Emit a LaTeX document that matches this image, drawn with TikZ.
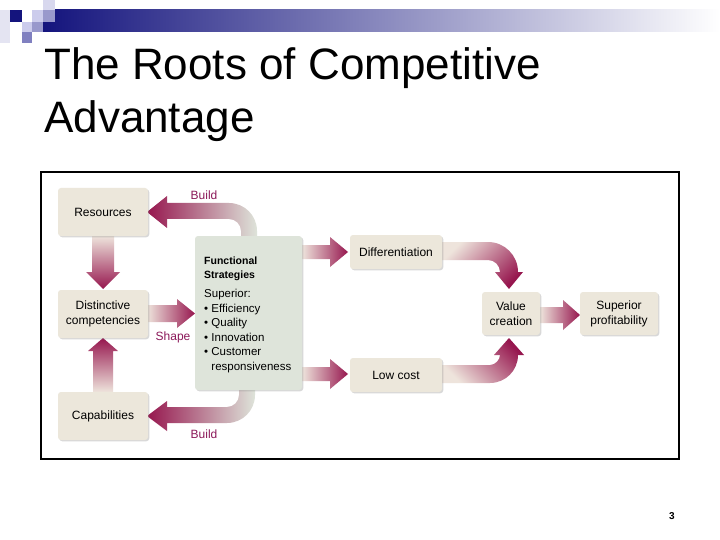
\documentclass[tikz,border=0pt]{standalone}
\usepackage{fontspec}
\setmainfont{Liberation Sans}
\usetikzlibrary{shadows}
\definecolor{arrdark}{RGB}{150,22,78}
\definecolor{arrmid}{RGB}{205,150,170}
\definecolor{arrlight}{RGB}{238,228,220}
\definecolor{boxfill}{RGB}{236,231,219}
\definecolor{fsfill}{RGB}{222,228,218}
\definecolor{lblcol}{RGB}{140,25,90}
\definecolor{mynavy}{RGB}{20,20,125}
\definecolor{barmid}{RGB}{160,160,195}
\definecolor{sqpale}{RGB}{228,228,242}
\definecolor{sqpale2}{RGB}{216,216,238}
\definecolor{sqlight}{RGB}{204,204,236}
\definecolor{sqmid}{RGB}{153,153,204}
\definecolor{sqdark}{RGB}{128,128,192}
\begin{document}
\begin{tikzpicture}[x=1pt,y=-1pt,
  box/.style={draw=none, fill=boxfill, rounded corners=3pt,
    drop shadow={shadow xshift=1.3pt,shadow yshift=-1.3pt,opacity=0.3},
    font=\fontsize{12}{15}\selectfont, align=center, inner sep=0pt},
  fsbox/.style={box, fill=fsfill},
  fstxt/.style={anchor=base west, inner sep=0pt, font=\fontsize{11.5}{14}\selectfont},
  fshead/.style={anchor=base west, inner sep=0pt, font=\fontsize{10.5}{13}\selectfont\bfseries},
  lbl/.style={text=lblcol, inner sep=0pt, font=\fontsize{12}{13}\selectfont},
  fatR/.style={draw=none, left color=arrlight, middle color=arrmid, right color=arrdark},
  fatD/.style={draw=none, top color=arrlight, middle color=arrmid, bottom color=arrdark},
  fatU/.style={draw=none, top color=arrdark, middle color=arrmid, bottom color=arrlight},
  titletxt/.style={anchor=base west, inner sep=0pt, font=\fontsize{44}{53}\selectfont}]
\useasboundingbox (0,0) rectangle (720,540);
\fill[white] (0,0) rectangle (720,540);

% header bar and squares
\shade[left color=mynavy, middle color=barmid, right color=white] (43,10) rectangle (720,32);
\fill[sqpale] (0,10) rectangle (10,43);
\fill[mynavy] (10,10) rectangle (22,22);
\fill[sqlight] (32,10) rectangle (43,22);
\fill[sqpale2] (43,0) rectangle (55,10);
\fill[sqmid] (43,10) rectangle (55,22);
\fill[sqlight] (22,22) rectangle (32,32);
\fill[sqmid] (32,22) rectangle (43,32);
\fill[sqdark] (22,32) rectangle (32,43);

% title
\node[titletxt] (t1) at (44,80) {The Roots of Competitive};
\node[titletxt] (t2) at (44,133) {Advantage};

% frame
\draw[line width=1.6pt] (41,172) rectangle (679,459);

% fat arrows (drawn beneath boxes)
% Build (top): Functional -> Resources
\shade[draw=none, left color=arrdark, middle color=arrmid, right color=fsfill]
  (257,240) -- (257,231) .. controls (257,215.5) and (244.5,203) .. (229,203)
  -- (167,203) -- (167,196) -- (147,212) -- (167,228) -- (167,219) -- (229,219)
  .. controls (235.6,219) and (241,224.4) .. (241,231) -- (241,240) -- cycle;
% Build (bottom): Functional -> Capabilities
\shade[draw=none, left color=arrdark, middle color=arrmid, right color=fsfill]
  (239,388) -- (239,395) .. controls (239,401.6) and (233.6,407) .. (227,407)
  -- (167,407) -- (167,401) -- (147,416) -- (167,431) -- (167,423) -- (227,423)
  .. controls (242.5,423) and (255,410.5) .. (255,395) -- (255,388) -- cycle;
% Resources -> Distinctive
\shade[fatD] (92,236) -- (92,272) -- (86,272) -- (103,289) -- (120,272) -- (114,272) -- (114,236) -- cycle;
% Capabilities -> Distinctive
\shade[fatU] (93,392) -- (93,351) -- (88,351) -- (103,338) -- (118,351) -- (113,351) -- (113,392) -- cycle;
% Distinctive -> Functional (Shape)
\shade[fatR] (147,305) -- (177,305) -- (177,299) -- (195,313.5) -- (177,328) -- (177,322) -- (147,322) -- cycle;
% Functional -> Differentiation
\shade[fatR] (302,245) -- (330,245) -- (330,237) -- (348,252) -- (330,267) -- (330,259) -- (302,259) -- cycle;
% Functional -> Low cost
\shade[fatR] (302,367) -- (330,367) -- (330,359) -- (348,374) -- (330,389) -- (330,381) -- (302,381) -- cycle;
% Value creation -> Superior profitability
\shade[fatR] (540,307) -- (563,307) -- (563,300) -- (580,315) -- (563,330) -- (563,323) -- (540,323) -- cycle;
% Differentiation -> Value creation
\shade[draw=none, top color=arrlight, middle color=arrmid, bottom color=arrdark, shading angle=45]
  (442,242) -- (488,242) .. controls (504.6,242) and (518,255.4) .. (518,272)
  -- (523,272) -- (509,289) -- (495,272) -- (500,272)
  .. controls (500,265.4) and (494.6,260) .. (488,260) -- (442,260) -- cycle;
% Low cost -> Value creation
\shade[draw=none, top color=arrdark, middle color=arrmid, bottom color=arrlight, shading angle=-45]
  (442,365) -- (490,365) .. controls (495.5,365) and (500,359.5) .. (500,355)
  -- (494,355) -- (509,338) -- (524,355) -- (518,355)
  .. controls (518,370.5) and (505.5,383) .. (490,383) -- (442,383) -- cycle;

% boxes
\node[box, minimum width=90pt, minimum height=48pt] (res) at (103,212) {Resources};
\node[box, minimum width=90pt, minimum height=48pt] (dis) at (103,314) {Distinctive\\competencies};
\node[box, minimum width=90pt, minimum height=48pt] (cap) at (103,416) {Capabilities};
\node[fsbox, minimum width=107pt, minimum height=154pt] (fs) at (248.5,313) {};
\node[box, minimum width=92pt, minimum height=34pt] (dif) at (396,252) {Differentiation};
\node[box, minimum width=92pt, minimum height=34pt] (low) at (396,375) {Low cost};
\node[box, minimum width=58pt, minimum height=43pt] (val) at (511,313.5) {Value\\creation};
\node[box, minimum width=78pt, minimum height=43pt] (sup) at (619,313.5) {Superior\\profitability};

% functional strategies text
\node[fshead] (fs1) at (204,264) {Functional};
\node[fshead] (fs2) at (204,278) {Strategies};
\node[fstxt] (fs3) at (204,297) {Superior:};
\node[fstxt] (fs4) at (204,312) {• Efficiency};
\node[fstxt] (fs5) at (204,326) {• Quality};
\node[fstxt] (fs6) at (204,341) {• Innovation};
\node[fstxt] (fs7) at (204,355) {• Customer};
\node[fstxt] (fs8) at (204,370) {\hphantom{• }responsiveness};

% labels
\node[lbl] (b1) at (204,195) {Build};
\node[lbl] (b2) at (204,434) {Build};
\node[lbl] (sh) at (173,337) {Shape};

% page number
\node[inner sep=0pt, font=\fontsize{10}{12}\selectfont\bfseries] (pg) at (672,516) {3};
\end{tikzpicture}
\end{document}
